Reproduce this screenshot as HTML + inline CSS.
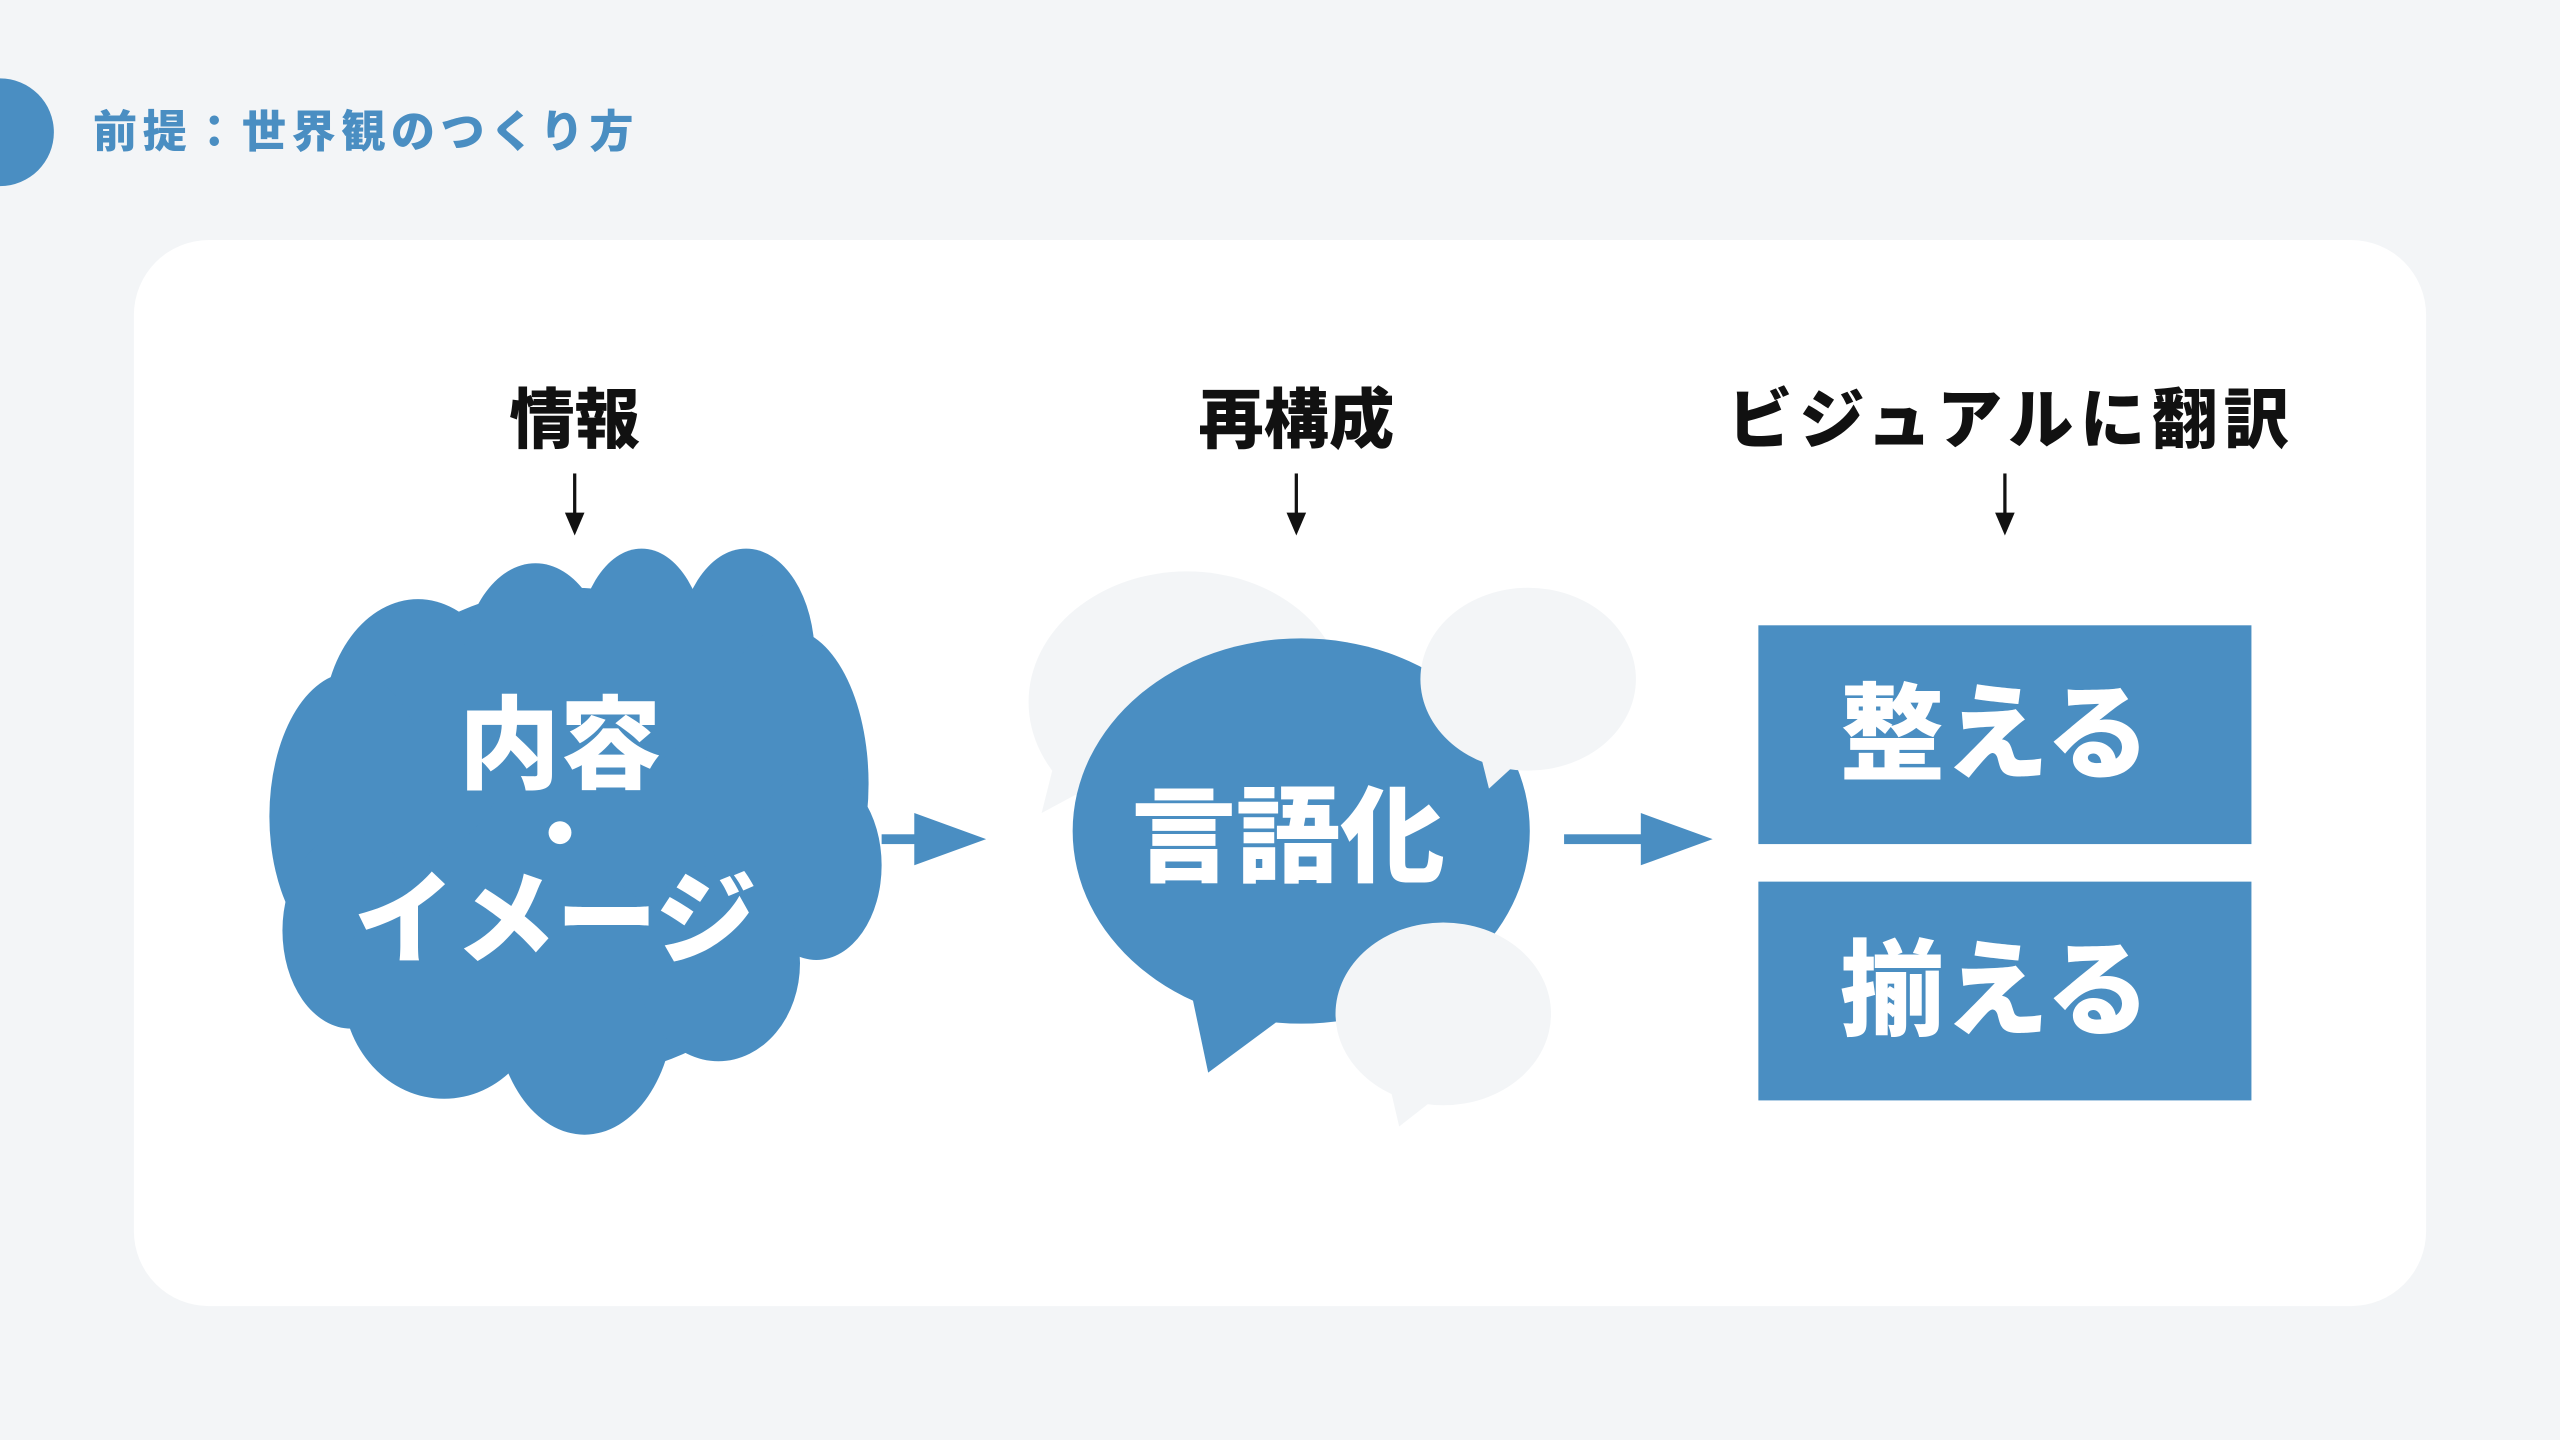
<!DOCTYPE html>
<html><head><meta charset="utf-8">
<style>
html,body{margin:0;padding:0;background:#f3f5f7;}
svg{display:block;}
text{font-family:"Liberation Sans","Noto Sans CJK JP",sans-serif;font-weight:900;}
</style></head>
<body>
<svg width="2560" height="1440" viewBox="0 0 1568 882" xmlns="http://www.w3.org/2000/svg">
<rect width="1568" height="882" fill="#f3f5f7"/>
<circle cx="0" cy="81" r="33" fill="#4a8ec2"/>
<text x="57" y="90" font-size="27" fill="#4a8ec2" letter-spacing="3.4">前提：世界観のつくり方</text>
<rect x="82" y="147" width="1404" height="653" rx="46" fill="#ffffff"/>

<text x="352" y="271" font-size="40" fill="#111" text-anchor="middle">情報</text>
<text x="794" y="271" font-size="40" fill="#111" text-anchor="middle">再構成</text>
<text x="1232" y="271" font-size="40" fill="#111" text-anchor="middle" letter-spacing="4">ビジュアルに翻訳</text>

<g stroke="#111" stroke-width="2">
<line x1="352" y1="290" x2="352" y2="318"/>
<line x1="794" y1="290" x2="794" y2="318"/>
<line x1="1228" y1="290" x2="1228" y2="318"/>
</g>
<g fill="#111">
<polygon points="346,314 358,314 352,328"/>
<polygon points="788,314 800,314 794,328"/>
<polygon points="1222,314 1234,314 1228,328"/>
</g>

<g fill="#4a8ec2">
<ellipse cx="350" cy="510" rx="160" ry="150"/>
<ellipse cx="256" cy="445" rx="58" ry="78"/>
<ellipse cx="328" cy="412" rx="45" ry="67"/>
<ellipse cx="393" cy="402" rx="40" ry="66"/>
<ellipse cx="457" cy="402" rx="42" ry="66"/>
<ellipse cx="482" cy="480" rx="50" ry="95"/>
<ellipse cx="500" cy="530" rx="40" ry="58"/>
<ellipse cx="215" cy="500" rx="50" ry="88"/>
<ellipse cx="215" cy="570" rx="42" ry="60"/>
<ellipse cx="272" cy="605" rx="62" ry="68"/>
<ellipse cx="358" cy="615" rx="55" ry="80"/>
<ellipse cx="440" cy="590" rx="50" ry="60"/>
</g>
<text x="343" y="478" font-size="62" fill="#fff" text-anchor="middle">内容</text>
<circle cx="343" cy="510" r="7" fill="#fff"/>
<text x="340" y="585" font-size="62" fill="#fff" text-anchor="middle">イメージ</text>

<rect x="540" y="511" width="24" height="6" fill="#4a8ec2"/>
<polygon points="560,498 604,514 560,530" fill="#4a8ec2"/>

<ellipse cx="727" cy="430" rx="97" ry="80" fill="#f3f5f7"/>
<polygon points="645,470 690,470 638,498" fill="#f3f5f7"/>
<ellipse cx="797" cy="509" rx="140" ry="118" fill="#4a8ec2"/>
<polygon points="728,600 790,620 740,657" fill="#4a8ec2"/>
<ellipse cx="936" cy="416" rx="66" ry="56" fill="#f3f5f7"/>
<polygon points="905,455 935,462 912,483" fill="#f3f5f7"/>
<ellipse cx="884" cy="621" rx="66" ry="56" fill="#f3f5f7"/>
<polygon points="850,660 880,672 857,690" fill="#f3f5f7"/>
<text x="789" y="535" font-size="64" fill="#fff" text-anchor="middle">言語化</text>

<rect x="958" y="511" width="50" height="6" fill="#4a8ec2"/>
<polygon points="1005,498 1049,514 1005,530" fill="#4a8ec2"/>

<rect x="1077" y="383" width="302" height="134" fill="#4a8ec2"/>
<rect x="1077" y="540" width="302" height="134" fill="#4a8ec2"/>
<text x="1222" y="472" font-size="64" fill="#fff" text-anchor="middle">整える</text>
<text x="1222" y="629" font-size="64" fill="#fff" text-anchor="middle">揃える</text>
</svg>
</body></html>
